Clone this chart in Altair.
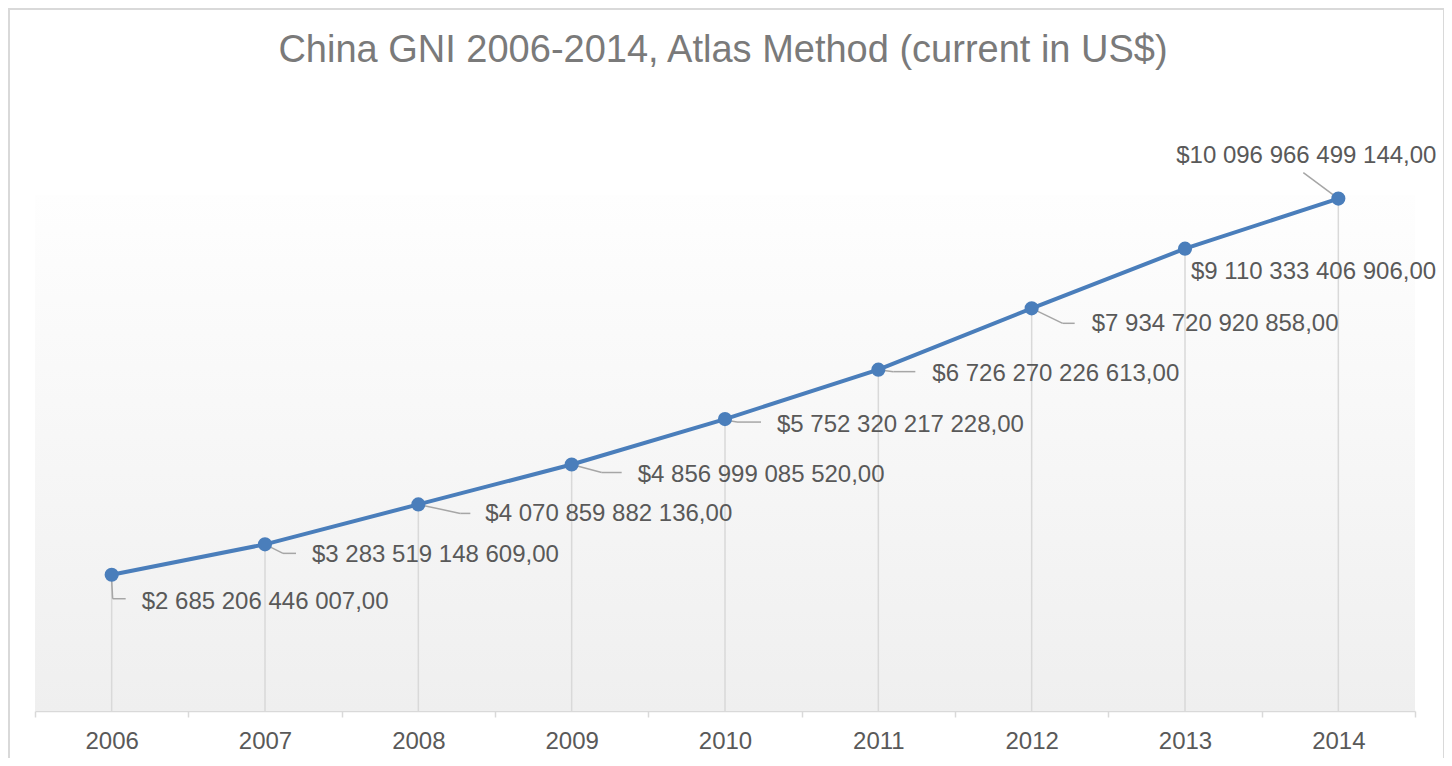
import altair as alt
import pandas as pd

# ---- data ----
YEARS = [2006, 2007, 2008, 2009, 2010, 2011, 2012, 2013, 2014]
GNI = [
    2685206446007,
    3283519148609,
    4070859882136,
    4856999085520,
    5752320217228,
    6726270226613,
    7934720920858,
    9110333406906,
    10096966499144,
]
TITLE = "China GNI 2006-2014, Atlas Method (current in US$)"

df = pd.DataFrame({"year": YEARS, "gni": GNI})
one = pd.DataFrame({"a": [0]})

# ---- style / layout ----
FONT = "Liberation Sans"
W, H = 1380, 609
LINE_COLOR = "#4a7ebb"
LABEL_COLOR = "#595959"
LEADER_COLOR = "#a6a6a6"
GRID_COLOR = "#d9d9d9"

# label offsets (pixels, relative to each point) and leader segments (x1, y1, x2, y2)
LABEL_LAYOUT = {
    2006: dict(dx=30, dy=27, align="left", leaders=[(0, 6, 1, 24), (1, 24, 14, 24)]),
    2007: dict(dx=47, dy=11, align="left", leaders=[(0, 0, 18, 9), (18, 9, 31, 9)]),
    2008: dict(dx=67, dy=10, align="left", leaders=[(0, 0, 42, 9), (42, 9, 52, 9)]),
    2009: dict(dx=66, dy=10, align="left", leaders=[(0, 0, 30, 8), (30, 8, 50, 8)]),
    2010: dict(dx=52, dy=6, align="left", leaders=[(0, 1, 12, 3), (12, 3, 36, 3)]),
    2011: dict(dx=54, dy=4, align="left", leaders=[(0, 0, 15, 2), (15, 2, 37, 2)]),
    2012: dict(dx=60, dy=16, align="left", leaders=[(0, 0, 31, 15), (31, 15, 43, 15)]),
    2013: dict(dx=6, dy=23, align="left", leaders=[]),
    2014: dict(dx=-32, dy=-43, align="center", leaders=[(-35, -26, 0, 0)]),
}


def X():
    return alt.X(
        "year:O",
        bandPosition=0.5,
        scale=alt.Scale(type="band", paddingInner=0, paddingOuter=0),
        title=None,
    )


def Y():
    return alt.Y(
        "gni:Q",
        scale=alt.Scale(domain=[0, 12e12], nice=False, zero=True),
        axis=None,
    )


gradient = alt.LinearGradient(
    gradient="linear",
    stops=[
        alt.GradientStop(color="#fefefe", offset=0),
        alt.GradientStop(color="#efefef", offset=1),
    ],
    x1=0, x2=0, y1=0, y2=1,
)

background = alt.Chart(one).mark_rect(color=gradient).encode(
    x=alt.value(0), x2=alt.value(W), y=alt.value(93), y2=alt.value(H)
)

border = alt.Chart(one).mark_rect(
    fill="transparent", stroke=GRID_COLOR, strokeWidth=2
).encode(x=alt.value(-26), x2=alt.value(W + 29), y=alt.value(-93), y2=alt.value(H + 70))

title = alt.Chart(one).mark_text(
    text=TITLE, font=FONT, fontSize=38, color="#7a7a7a",
    align="center", baseline="alphabetic",
).encode(x=alt.value(688), y=alt.value(-40))

drops = alt.Chart(df).mark_rule(color=GRID_COLOR, strokeWidth=1.5).encode(
    x=X(), y=Y(), y2=alt.datum(0)
)

line = alt.Chart(df).mark_line(color=LINE_COLOR, strokeWidth=4).encode(x=X(), y=Y())
points = alt.Chart(df).mark_circle(color=LINE_COLOR, size=200, opacity=1).encode(x=X(), y=Y())

layers = [background, border, title, drops]

for yr, lay in LABEL_LAYOUT.items():
    for (a, b, c, d) in lay["leaders"]:
        layers.append(
            alt.Chart(df)
            .transform_filter(alt.datum.year == yr)
            .mark_rule(
                color=LEADER_COLOR, strokeWidth=1.5,
                xOffset=a, yOffset=b, x2Offset=c, y2Offset=d,
            )
            .encode(
                x=X(), x2=alt.X2("year", bandPosition=0.5),
                y=Y(), y2=alt.Y2("gni"),
            )
        )

layers += [line, points]

for yr, lay in LABEL_LAYOUT.items():
    layers.append(
        alt.Chart(df)
        .transform_filter(alt.datum.year == yr)
        .mark_text(
            align=lay["align"], baseline="middle", dx=lay["dx"], dy=lay["dy"],
            font=FONT, fontSize=24, color=LABEL_COLOR,
        )
        .encode(x=X(), y=Y(), text=alt.Text("gni:Q", format="$,.2f"))
    )

chart = (
    alt.layer(*layers)
    .properties(
        width=W,
        height=H,
        padding={"left": 27, "top": 94, "right": 29, "bottom": 47},
        autosize=alt.AutoSizeParams(type="none"),
        background="white",
    )
    .configure(
        locale={
            "number": {
                "decimal": ",",
                "thousands": " ",
                "grouping": [3],
                "currency": ["$", ""],
            }
        }
    )
    .configure_view(stroke=None)
    .configure_axisX(
        tickBand="extent",
        domainColor=GRID_COLOR,
        domainWidth=1.5,
        tickColor=GRID_COLOR,
        tickWidth=1.5,
        tickSize=6,
        labelFont=FONT,
        labelFontSize=24,
        labelColor=LABEL_COLOR,
        labelPadding=12,
        labelAngle=0,
        grid=False,
    )
)

chart.save("out.html", embed_options={"renderer": "svg", "actions": False})
